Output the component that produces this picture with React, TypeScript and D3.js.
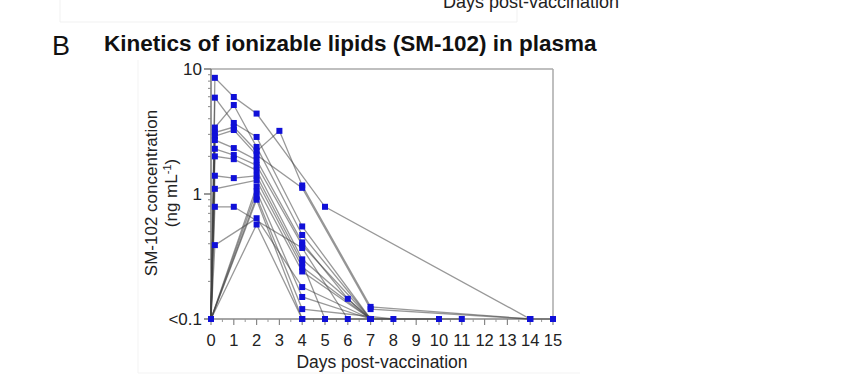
import React, { useEffect, useRef } from "react";
import * as d3 from "d3";

const xTicks = [0, 1, 2, 3, 4, 5, 6, 7, 8, 9, 10, 11, 12, 13, 14, 15];
const yTickValues = [0.1, 1, 10];
const yTickLabels = ["<0.1", "1", "10"];
const LOD = 0.1;

// each subject: days and concentrations (values <= 0.1 are "<0.1")
const s1Days = [0, 0.17, 1, 2, 5, 14, 15];
const s1Vals = [0.1, 8.5, 5.97, 4.4, 0.79, 0.1, 0.1];
const s2Days = [0, 0.17, 1, 2, 4, 7];
const s2Vals = [0.1, 5.9, 3.7, 2.86, 0.55, 0.1];
const s3Days = [0, 0.17, 1, 2, 4, 7];
const s3Vals = [0.1, 3.4, 5.15, 2.38, 0.47, 0.1];
const s4Days = [0, 0.17, 1, 2, 3, 4, 7, 14];
const s4Vals = [0.1, 3.1, 3.43, 2.2, 3.2, 1.17, 0.125, 0.1];
const s5Days = [0, 0.17, 1, 2, 4, 7, 14];
const s5Vals = [0.1, 2.9, 3.25, 2.05, 1.12, 0.12, 0.1];
const s6Days = [0, 0.17, 1, 2, 4, 6, 7];
const s6Vals = [0.1, 2.7, 2.33, 1.87, 0.41, 0.145, 0.1];
const s7Days = [0, 0.17, 1, 2, 4, 7, 10];
const s7Vals = [0.1, 2.3, 2.05, 1.7, 0.39, 0.1, 0.1];
const s8Days = [0, 0.17, 1, 2, 4, 7, 11];
const s8Vals = [0.1, 2.0, 1.9, 1.55, 0.3, 0.1, 0.1];
const s9Days = [0, 0.17, 1, 2, 4, 5];
const s9Vals = [0.1, 1.4, 1.34, 1.4, 0.28, 0.1];
const s10Days = [0, 0.17, 2, 4, 7];
const s10Vals = [0.1, 1.1, 1.29, 0.26, 0.1];
const s11Days = [0, 0.17, 1, 4, 6];
const s11Vals = [0.1, 0.79, 0.79, 0.37, 0.1];
const s12Days = [0, 0.17, 2, 4, 7];
const s12Vals = [0.1, 0.39, 0.64, 0.18, 0.1];
const s13Days = [0, 2, 4, 7];
const s13Vals = [0.1, 1.15, 0.24, 0.1];
const s14Days = [0, 2, 4, 7];
const s14Vals = [0.1, 1.05, 0.15, 0.1];
const s15Days = [0, 2, 4, 8];
const s15Vals = [0.1, 0.95, 0.12, 0.1];
const s16Days = [0, 2, 4];
const s16Vals = [0.1, 0.9, 0.1];
const s17Days = [0, 2, 4, 7];
const s17Vals = [0.1, 0.57, 0.1, 0.1];

const subjectDays = [s1Days, s2Days, s3Days, s4Days, s5Days, s6Days, s7Days, s8Days, s9Days, s10Days, s11Days, s12Days, s13Days, s14Days, s15Days, s16Days, s17Days];
const subjectVals = [s1Vals, s2Vals, s3Vals, s4Vals, s5Vals, s6Vals, s7Vals, s8Vals, s9Vals, s10Vals, s11Vals, s12Vals, s13Vals, s14Vals, s15Vals, s16Vals, s17Vals];

const FONT = "'Liberation Sans', Arial, Helvetica, sans-serif";

export default function App() {
  const ref = useRef<SVGSVGElement>(null);

  useEffect(() => {
    const svg = d3.select(ref.current);
    svg.selectAll("*").remove();

    const x = d3.scaleLinear().domain([0, 15]).range([211, 553]);
    const y = d3.scaleLog().domain([0.1, 10]).range([319, 69]);
    const yv = (v: number) => y(Math.max(LOD, v));

    // faint panel frames
    svg.append("path").attr("d", "M60,0 V22 H517 V0").attr("fill", "none").attr("stroke", "#f1f1f1").attr("stroke-width", 1);
    svg.append("path").attr("d", "M138,60 V373 H580").attr("fill", "none").attr("stroke", "#f3f3f3").attr("stroke-width", 1);

    // label of the panel above (cut off by the top edge, as in the source)
    svg.append("text").attr("x", 531).attr("y", 8).attr("text-anchor", "middle")
      .attr("font-family", FONT).attr("font-size", 18).attr("fill", "#222").text("Days post-vaccination");

    svg.append("text").attr("x", 52).attr("y", 55).attr("font-family", FONT).attr("font-size", 27)
      .attr("fill", "#111").text("B");
    svg.append("text").attr("x", 104).attr("y", 51).attr("font-family", FONT).attr("font-size", 22.5)
      .attr("font-weight", "bold").attr("fill", "#111").text("Kinetics of ionizable lipids (SM-102) in plasma");

    // frame top/right
    svg.append("line").attr("x1", x(0)).attr("x2", x(15)).attr("y1", y(10)).attr("y2", y(10)).attr("stroke", "#aaa").attr("stroke-width", 1.5);
    svg.append("line").attr("x1", x(15)).attr("x2", x(15)).attr("y1", y(10)).attr("y2", y(0.1)).attr("stroke", "#aaa").attr("stroke-width", 1.5);

    // y axis
    const ya = svg.append("g");
    ya.append("line").attr("x1", x(0)).attr("x2", x(0)).attr("y1", y(10)).attr("y2", y(0.1)).attr("stroke", "#777").attr("stroke-width", 1.5);
    const minor: number[] = [];
    [0.1, 1].forEach((d) => { for (let k = 2; k <= 9; k++) minor.push(d * k); });
    minor.forEach((m) => {
      ya.append("line").attr("x1", x(0) - 3).attr("x2", x(0)).attr("y1", y(m)).attr("y2", y(m)).attr("stroke", "#888").attr("stroke-width", 1);
    });
    yTickValues.forEach((v, i) => {
      ya.append("line").attr("x1", x(0) - 7).attr("x2", x(0)).attr("y1", y(v)).attr("y2", y(v)).attr("stroke", "#777").attr("stroke-width", 1.5);
      ya.append("text").attr("x", x(0) - 9).attr("y", y(v)).attr("dy", "0.35em").attr("text-anchor", "end")
        .attr("font-family", FONT).attr("font-size", 17).attr("fill", "#222").text(yTickLabels[i]);
    });

    // x axis
    const xa = svg.append("g");
    xa.append("line").attr("x1", x(0)).attr("x2", x(15)).attr("y1", y(0.1)).attr("y2", y(0.1)).attr("stroke", "#888").attr("stroke-width", 1.5);
    xTicks.forEach((t) => {
      xa.append("line").attr("x1", x(t)).attr("x2", x(t)).attr("y1", y(0.1)).attr("y2", y(0.1) + 6).attr("stroke", "#888").attr("stroke-width", 1.2);
      if (t < 15) {
        xa.append("line").attr("x1", x(t + 0.5)).attr("x2", x(t + 0.5)).attr("y1", y(0.1)).attr("y2", y(0.1) + 3).attr("stroke", "#999").attr("stroke-width", 1);
      }
      xa.append("text").attr("x", x(t)).attr("y", 340).attr("dy", "0.35em").attr("text-anchor", "middle")
        .attr("font-family", FONT).attr("font-size", 16.5).attr("fill", "#222").text(String(t));
    });
    svg.append("text").attr("x", 382).attr("y", 368).attr("text-anchor", "middle")
      .attr("font-family", FONT).attr("font-size", 17.5).attr("fill", "#222").text("Days post-vaccination");

    // y label
    const yl = svg.append("text").attr("transform", `translate(157,${193}) rotate(-90)`).attr("text-anchor", "middle")
      .attr("font-family", FONT).attr("font-size", 17).attr("fill", "#222");
    yl.text("SM-102 concentration");
    const yl2 = svg.append("text").attr("transform", `translate(177,${193}) rotate(-90)`).attr("text-anchor", "middle")
      .attr("font-family", FONT).attr("font-size", 17).attr("fill", "#222");
    yl2.append("tspan").text("(ng mL");
    yl2.append("tspan").attr("dy", -6).attr("font-size", 11).text("-1");
    yl2.append("tspan").attr("dy", 6).text(")");

    // lines
    const line = d3.line<[number, number]>().x((d) => x(d[0])).y((d) => yv(d[1]));
    const subjects = subjectDays.map((ds, i) => ds.map((d, j) => [d, subjectVals[i][j]] as [number, number]));
    const lg = svg.append("g");
    subjects.forEach((pts) => {
      lg.append("path").attr("d", line(pts) as string).attr("fill", "none").attr("stroke", "#444")
        .attr("stroke-opacity", 0.55).attr("stroke-width", 1.3);
    });
    const pg = svg.append("g");
    subjects.forEach((pts) => {
      pts.forEach((p) => {
        pg.append("rect").attr("x", x(p[0]) - 3).attr("y", yv(p[1]) - 3).attr("width", 6).attr("height", 6)
          .attr("fill", "#1010d8");
      });
    });
  }, []);

  return (
    <svg ref={ref} width={867} height={382} style={{ position: "absolute", left: 0, top: 0, background: "#fff" }} />
  );
}
